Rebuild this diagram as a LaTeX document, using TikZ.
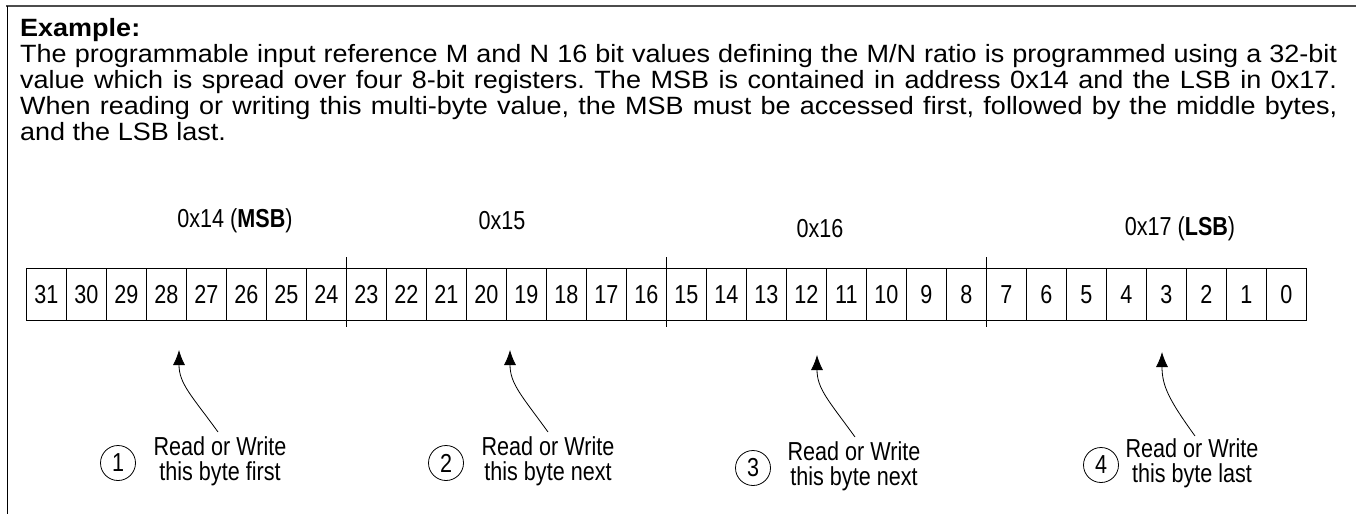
\documentclass[tikz,border=0pt]{standalone}
\usepackage{fontspec}
\setmainfont{Liberation Sans}[FakeStretch=1.08]
\newfontfamily\diagfont{Liberation Sans}[FakeStretch=0.83]
\usetikzlibrary{arrows.meta}
\frenchspacing

\tikzset{
  bitcell/.style={draw, line width=0.8pt, minimum width=40pt, minimum height=52pt, inner sep=0pt, anchor=north west},
  bytetick/.style={line width=0.8pt},
  bytelabel/.style={inner sep=0pt},
  stepnum/.style={draw, circle, line width=0.8pt, minimum size=35pt, inner sep=0pt},
  steplabel/.style={align=center, inner sep=0pt},
  orderarrow/.style={line width=0.8pt, -{Latex[length=15pt,width=12pt]}},
}

\begin{document}
\begin{tikzpicture}[x=1pt, y=-1pt, font=\diagfont\fontsize{26}{25}\selectfont]
                \useasboundingbox (0,0) rectangle (1356,514);
                % Frame
                \draw [line width=2pt, black!70] (6,6) -- (1356,6);
                \draw [line width=1pt] (7,6) -- (7,514);
                % Text
                \node [anchor=base west, inner sep=0pt, text width=1317pt, align=justify,
                       font=\rmfamily\fontsize{25}{26}\selectfont] (intro) at (20,36)
                  {\textbf{Example:}\\
                   The programmable input reference M and N 16 bit values defining the M/N ratio is programmed using a 32-bit\linebreak
                   value which is spread over four 8-bit registers. The MSB is contained in address 0x14 and the LSB in 0x17.\linebreak
                   When reading or writing this multi-byte value, the MSB must be accessed first, followed by the middle bytes,\linebreak
                   and the LSB last.};
                % Register bits
                \foreach \b in {31,...,0} {
                  \pgfmathsetmacro{\xl}{26+40*(31-\b)}
                  \node [bitcell] (c\b) at (\xl,268) {\b};
                }
                % Byte boundaries
                \draw [bytetick] ([yshift=11pt]c24.north east) -- ([yshift=-6pt]c24.south east);
                \draw [bytetick] ([yshift=11pt]c16.north east) -- ([yshift=-6pt]c16.south east);
                \draw [bytetick] ([yshift=11pt]c8.north east) -- ([yshift=-6pt]c8.south east);
                % Byte addresses
                \node [bytelabel] (msb) at (235,221) {0x14 (\textbf{MSB})};
                \node [bytelabel] (mid1) at (502,221) {0x15};
                \node [bytelabel] (mid2) at (820,229) {0x16};
                \node [bytelabel] (lsb) at (1180,229) {0x17 (\textbf{LSB})};
                % Step 1
                \node [stepnum] (n1) at (118,463) {1};
                \node [steplabel] (t1) at (220,461) {Read or Write\\this byte first};
                \coordinate (tail1) at (218,432);
                \coordinate (tip1) at (179,350);
                \draw [orderarrow] (tail1) .. controls +(-26,-36) and +(0,34) .. (tip1);
                % Step 2
                \node [stepnum] (n2) at (446,463) {2};
                \node [steplabel] (t2) at (548,461) {Read or Write\\this byte next};
                \coordinate (tail2) at (548,432);
                \coordinate (tip2) at (510,350);
                \draw [orderarrow] (tail2) .. controls +(-26,-36) and +(0,34) .. (tip2);
                % Step 3
                \node [stepnum] (n3) at (753,468) {3};
                \node [steplabel] (t3) at (854,466) {Read or Write\\this byte next};
                \coordinate (tail3) at (855,437);
                \coordinate (tip3) at (817,355);
                \draw [orderarrow] (tail3) .. controls +(-26,-36) and +(0,34) .. (tip3);
                % Step 4
                \node [stepnum] (n4) at (1101,465) {4};
                \node [steplabel] (t4) at (1192,463) {Read or Write\\this byte last};
                \coordinate (tail4) at (1195,436);
                \coordinate (tip4) at (1162,352);
                \draw [orderarrow] (tail4) .. controls +(-26,-36) and +(0,34) .. (tip4);
            \end{tikzpicture}
\end{document}
